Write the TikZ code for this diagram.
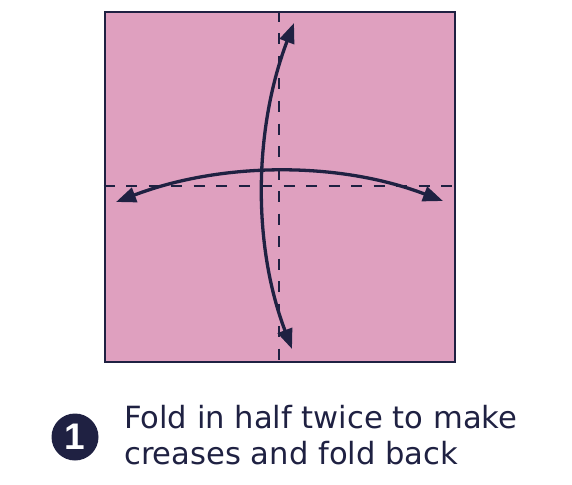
\documentclass[tikz,border=0pt]{standalone}
\usepackage{fontspec}
\setmainfont{DejaVu Sans}
\newfontfamily\numfont{Liberation Sans}
\usetikzlibrary{arrows.meta}
\definecolor{paper}{RGB}{223,160,191}
\definecolor{ink}{RGB}{31,33,66}
\begin{document}
\begin{tikzpicture}[x=1pt,y=-1pt,
  sheet/.style={draw=ink, fill=paper, line width=2.2pt, minimum size=350pt, inner sep=0pt, anchor=north west},
  crease/.style={draw=ink, line width=1.7pt, dash pattern=on 11pt off 11.5pt},
  foldarrow/.style={draw=ink, line width=3.3pt, {Triangle[length=20pt,width=15pt]}-{Triangle[length=20pt,width=15pt]}},
  stepnum/.style={circle, fill=ink, minimum size=47pt, inner sep=0pt, text=white, font=\numfont\bfseries\fontsize{37}{37}\selectfont},
  caption/.style={anchor=base west, inner sep=0pt, text=ink, font=\fontsize{30.6}{36}\selectfont}]
\useasboundingbox (0,0) rectangle (572,484);
\node[sheet] (sq) at (103.5,11) {};
\draw[crease] ([xshift=-0.5pt]sq.north) -- ([xshift=-0.5pt]sq.south);
\draw[crease] ([yshift=1pt]sq.west) -- ([yshift=1pt]sq.east);
\coordinate (L) at (116,202);
\coordinate (R) at (443,201);
\coordinate (T) at (294,23);
\coordinate (B) at (292,349);
\draw[foldarrow] (L) .. controls (221,162) and (338,161) .. (R);
\draw[foldarrow] (T) .. controls (254,128) and (252,244) .. (B);
\node[stepnum] (num) at (75,437) {1};
\node[caption] (line1) at (124,428) {Fold in half twice to make};
\node[caption] (line2) at (124,464) {creases and fold back};
\end{tikzpicture}
\end{document}
